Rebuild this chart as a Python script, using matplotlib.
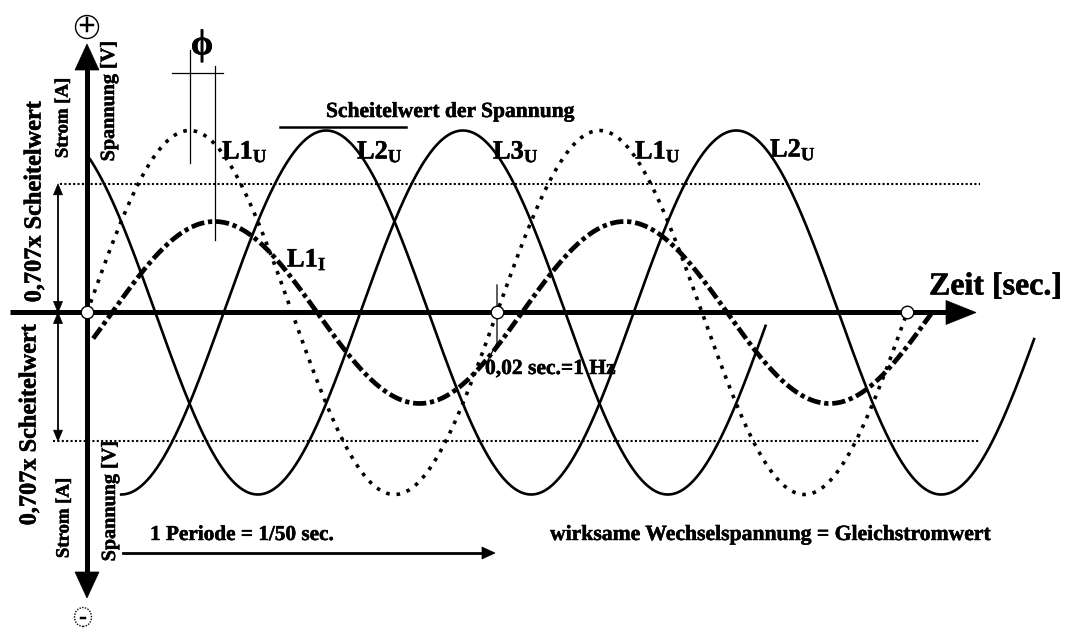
import numpy as np
import matplotlib
matplotlib.use("Agg")
import matplotlib.pyplot as plt
from matplotlib.patches import Ellipse, Polygon
from matplotlib import font_manager as fm
import matplotlib.patheffects as pe

# ---------------- data ----------------
frequency_hz = 50
period_s = 1 / frequency_hz                     # 0.02 s
phase_names = ["L1", "L2", "L3"]
phase_shift_deg = [0, 120, 240]                 # three-phase system
voltage_amplitude = 1.0                         # Scheitelwert (normalised)
current_amplitude = 0.5
current_lag_deg = 22                            # phi
rms_factor = 0.707
# visible time span of each curve (in periods)
voltage_span_periods = {"L1": (0.0, 2.0), "L2": (1 / 12, 2.31), "L3": (0.0, 1.655)}
current_span_periods = (0.015, 2.06)
voltage_styles = {"L1": "dotted", "L2": "solid", "L3": "solid"}
curve_labels = ["L1", "L2", "L3", "L1", "L2"]
marker_periods = [0, 1, 2]

# ---------------- geometry (pixel mapping of the drawing) ----------------
W, H = 1068, 631
X0, PX_PER_S = 87.0, 410.0 / period_s
Y0, PX_PER_V = 312.5, 182.0


def px2t(x):
    return (x - X0) / PX_PER_S


def py2v(y):
    return (Y0 - y) / PX_PER_V


# ---------------- fonts ----------------
def _w(f):
    w = f.weight
    if isinstance(w, str):
        w = fm.weight_dict.get(w, 400)
    return w


has_bold = any(f.name == "Liberation Serif" and _w(f) >= 600 for f in fm.fontManager.ttflist)
stroke_w = 0.35 if has_bold else 0.9
EFF = [pe.withStroke(linewidth=stroke_w, foreground="black")]

plt.rcParams["mathtext.fontset"] = "custom"
plt.rcParams["mathtext.rm"] = "Liberation Serif:bold"
plt.rcParams["mathtext.it"] = "Liberation Serif:bold"
plt.rcParams["mathtext.bf"] = "Liberation Serif:bold"
FONT = dict(family="Liberation Serif", weight="bold", color="black", path_effects=EFF)

fig = plt.figure(figsize=(W / 100, H / 100), dpi=100)
ax = fig.add_axes([0, 0, 1, 1])
ax.set_xlim(px2t(0), px2t(W))
ax.set_ylim(py2v(H), py2v(0))
ax.axis("off")

omega = 2 * np.pi * frequency_hz


def head(tip_x, tip_y, direction, length, half):
    """arrow head polygon, sizes in pixels, tip in pixels"""
    dx, dy = direction
    bx, by = tip_x - dx * length, tip_y - dy * length
    px, py = -dy, dx
    pts = [(tip_x, tip_y), (bx + px * half, by + py * half), (bx - px * half, by - py * half)]
    ax.add_patch(Polygon([(px2t(x), py2v(y)) for x, y in pts], closed=True,
                         fc="black", ec="black", lw=0.5, zorder=7))


# ---------------- 0.707 dotted lines ----------------
for sgn, xs in [(1, 60), (-1, 53)]:
    ax.plot([px2t(xs), px2t(980)], [sgn * rms_factor * voltage_amplitude] * 2,
            color="black", lw=1.5, ls=(0, (1, 1.1)), zorder=2)

# ---------------- voltage curves ----------------
for name, shift in zip(phase_names, phase_shift_deg):
    a, b = voltage_span_periods[name]
    t = np.linspace(a * period_s, b * period_s, 1200)
    v = voltage_amplitude * np.sin(omega * t - np.radians(shift))
    if voltage_styles[name] == "dotted":
        ax.plot(t, v, color="black", lw=2.6, ls=(0, (1, 1.9)), zorder=3)
    else:
        ax.plot(t, v, color="black", lw=1.9, ls="-", zorder=3)

# ---------------- current curve ----------------
t = np.linspace(current_span_periods[0] * period_s, current_span_periods[1] * period_s, 1500)
i_cur = current_amplitude * np.sin(omega * t - np.radians(current_lag_deg))
ax.plot(t, i_cur, color="black", lw=3.4, ls=(0, (2.8, 0.8, 0.9, 0.8)),
        solid_capstyle="butt", dash_capstyle="butt", zorder=4)

# ---------------- axes ----------------
# horizontal time axis
ax.plot([px2t(10), px2t(950)], [0, 0], color="black", lw=3.6, solid_capstyle="butt", zorder=6)
head(976, Y0, (1, 0), 30, 12)
# vertical axis
ax.plot([0, 0], [py2v(65), py2v(578)], color="black", lw=3.6, solid_capstyle="butt", zorder=6)
head(X0, 44, (0, -1), 26, 12)
head(X0, 598, (0, 1), 26, 12)

# double arrows for 0.707 x Scheitelwert
y_up = Y0 - rms_factor * voltage_amplitude * PX_PER_V
y_dn = Y0 + rms_factor * voltage_amplitude * PX_PER_V
for ya, yb in [(y_up, Y0), (Y0, y_dn)]:
    ax.plot([px2t(58)] * 2, [py2v(ya + 8), py2v(yb - 8)], color="black", lw=1.3, zorder=6)
    head(58, ya, (0, -1), 11, 4.5)
    head(58, yb, (0, 1), 11, 4.5)

# 1 Periode arrow
ax.plot([px2t(123), px2t(484)], [py2v(553)] * 2, color="black", lw=2.0, zorder=6)
head(495, 553, (1, 0), 13, 6)

# markers on the time axis (0, T, 2T)
for k in marker_periods:
    ax.plot([k * period_s], [0], marker="o", ms=9, mfc="white", mec="black", mew=1.0, zorder=8)

# thin leader line from 0.02 s marker to its label
ax.plot([period_s, period_s, px2t(488)], [py2v(285), py2v(343), py2v(360)],
        color="black", lw=0.9, zorder=7)

# phi construction lines
t_peak_u = period_s / 4
t_peak_i = period_s / 4 + current_lag_deg / 360 * period_s
ax.plot([t_peak_u, t_peak_u], [py2v(50), py2v(163)], color="black", lw=0.9, zorder=5)
ax.plot([t_peak_i, t_peak_i], [py2v(66), py2v(240)], color="black", lw=0.9, zorder=5)
ax.plot([px2t(172), px2t(223)], [py2v(73), py2v(73)], color="black", lw=0.9, zorder=5)
ax.text(px2t(202), py2v(46), "ϕ", fontsize=26, ha="center", va="center", **FONT)

# Scheitelwert overline
ax.plot([px2t(280), px2t(406)], [voltage_amplitude + 0.02] * 2, color="black", lw=1.8, zorder=5)
ax.text(px2t(326), py2v(112), "Scheitelwert der Spannung", fontsize=15.5,
        ha="left", va="center", **FONT)

# + / - circles
ax.add_patch(Ellipse((0, py2v(27)), width=23 / PX_PER_S, height=23 / PX_PER_V,
                     fill=False, lw=1.0, ec="black", zorder=8))
ax.text(0, py2v(28), "+", fontsize=23, ha="center", va="center", zorder=9, **FONT)
ax.add_patch(Ellipse((px2t(83), py2v(617)), width=17 / PX_PER_S, height=19 / PX_PER_V,
                     fill=False, lw=1.0, ls=(0, (1, 1)), ec="black", zorder=8))
ax.text(px2t(83), py2v(618), "-", fontsize=16, ha="center", va="center", zorder=9, **FONT)

# curve labels
label_pos = [(222, 152), (357, 152), (493, 152), (635, 152), (770, 150)]
for name, (x, y) in zip(curve_labels, label_pos):
    ax.text(px2t(x), py2v(y), name + r"$_{\mathrm{U}}$", fontsize=19,
            ha="left", va="center", **FONT)
ax.text(px2t(287), py2v(260), "L1" + r"$_{\mathrm{I}}$", fontsize=19,
        ha="left", va="center", **FONT)

# rotated labels
rot_kw = dict(rotation=90, ha="center", va="center", **FONT)
ax.text(px2t(63), py2v(118), "Strom [A]", fontsize=13.5, **rot_kw)
ax.text(px2t(109), py2v(101), "Spannung [V]", fontsize=14.5, **rot_kw)
ax.text(px2t(35), py2v(202), "0,707x Scheitelwert", fontsize=17.5, **rot_kw)
ax.text(px2t(30), py2v(425), "0,707x Scheitelwert", fontsize=17.5, **rot_kw)
ax.text(px2t(64), py2v(518), "Strom [A]", fontsize=13.5, **rot_kw)
ax.text(px2t(110), py2v(501), "Spannung [V]", fontsize=14.5, **rot_kw)

# other texts
ax.text(px2t(929), py2v(287), "Zeit [sec.]", fontsize=23, ha="left", va="center", **FONT)
ax.text(px2t(485), py2v(369), "0,02 sec.=1 Hz", fontsize=15.5, ha="left", va="center", **FONT)
ax.text(px2t(150), py2v(535), "1 Periode = 1/50 sec.", fontsize=15.3, ha="left", va="center", **FONT)
ax.text(px2t(550), py2v(535), "wirksame Wechselspannung = Gleichstromwert", fontsize=15.6,
        ha="left", va="center", **FONT)

fig.savefig("out.png", dpi=100, facecolor="white")
